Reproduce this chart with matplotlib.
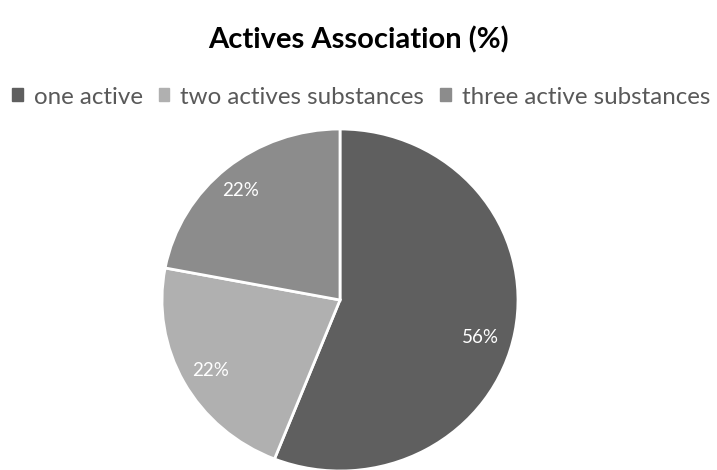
import matplotlib
matplotlib.use("Agg")
import matplotlib.pyplot as plt

categories = ["one active", "two actives substances", "three active substances"]
values = [56, 22, 22]
colors = ["#5f5f5f", "#b0b0b0", "#8c8c8c"]

plt.rcParams['font.family'] = ['Lato', 'DejaVu Sans']

fig = plt.figure(figsize=(7.17, 4.70), dpi=100)
W, H = 717, 470
cx, cy, rx, ry = 340, 300, 178, 171
ax = fig.add_axes([(cx - rx) / W, (H - cy - ry) / H, 2 * rx / W, 2 * ry / H])

wedges, texts, autotexts = ax.pie(
    values, colors=colors, startangle=90, counterclock=False,
    autopct=lambda p: f"{p:.0f}%", pctdistance=0.78,
    wedgeprops=dict(edgecolor="white", linewidth=2),
    textprops=dict(color="white", fontsize=13.5))
ax.set_xlim(-1.0, 1.0)
ax.set_ylim(-1.0, 1.0)
ax.set_aspect('auto')
# adjust label positions toward best-fit placement
autotexts[0].set_position((0.79, -0.22))
autotexts[1].set_position((-0.73, -0.41))
autotexts[2].set_position((-0.56, 0.64))

fig.text(358 / W, 1 - 40 / H, "Actives Association (%)", ha="center", va="center",
         fontsize=21, fontweight="bold", color="black")

handles = [plt.Rectangle((0, 0), 1, 1, color=c) for c in colors]
fig.legend(handles, categories, loc="center", bbox_to_anchor=(361 / W, 1 - 97 / H),
           ncol=3, frameon=False, fontsize=17.4, handlelength=0.45, handleheight=0.45,
           handletextpad=0.45, columnspacing=0.65, labelcolor="#595959")

fig.savefig("out.png", dpi=100)
